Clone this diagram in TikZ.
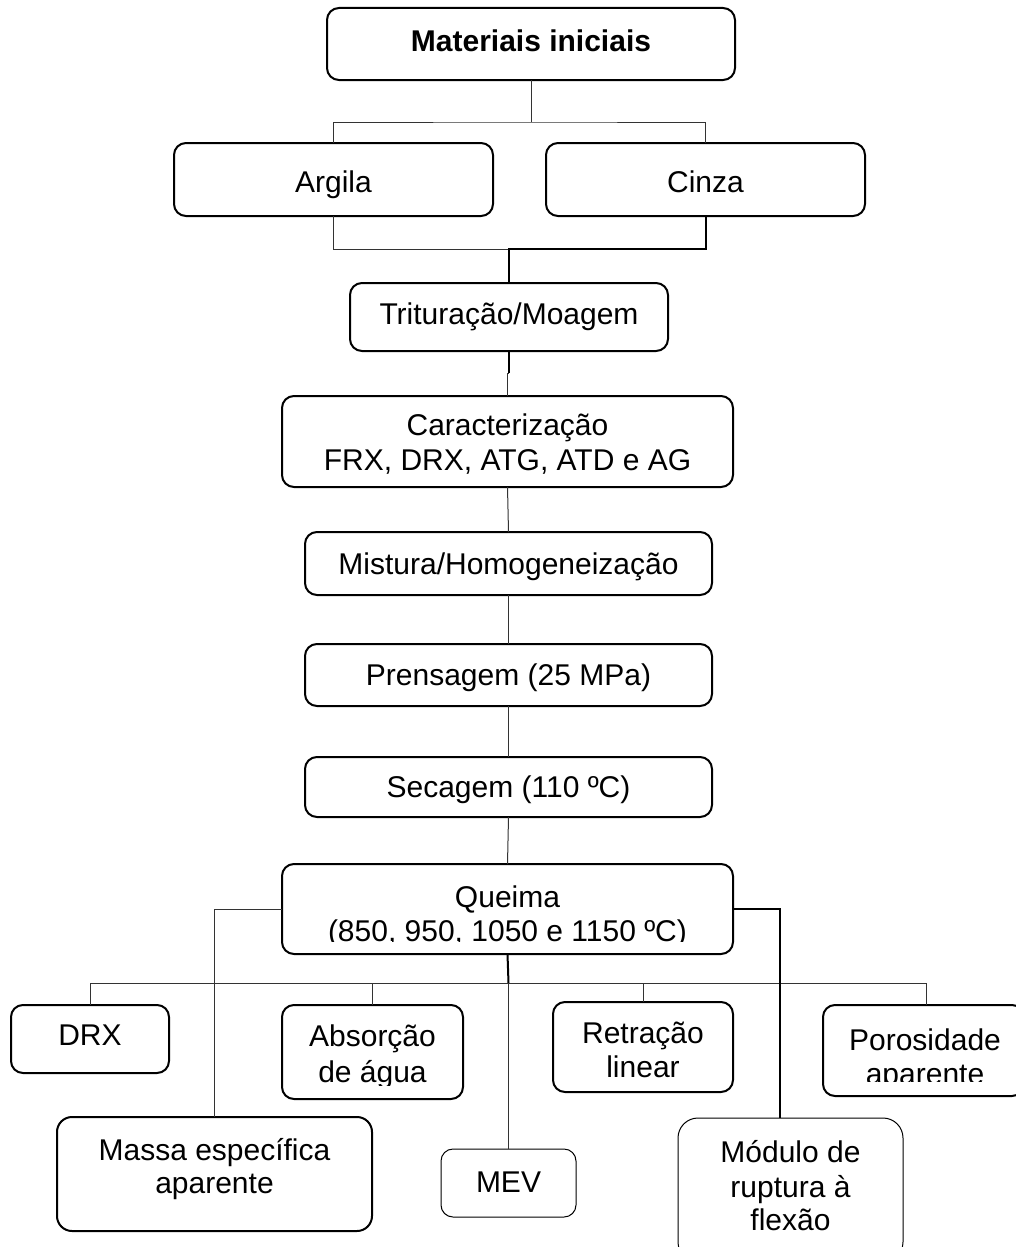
\documentclass[tikz,border=0pt]{standalone}
\usepackage{fontspec}
\setmainfont{Liberation Sans}
\newcommand\mybox[6]{\node[#2,minimum width={(#5)-(#3)},minimum height={(#6)-(#4)}] (#1) at ({((#3)+(#5))/2},{((#4)+(#6))/2}) {};}
\begin{document}
\begin{tikzpicture}[x=1pt,y=-1pt,
  box/.style={draw=black,line width=2pt,rounded corners=12pt,inner sep=0pt,outer sep=0pt},
  thinbox/.style={draw=black,line width=1pt,rounded corners=12pt,inner sep=0pt,outer sep=0pt},
  lbl/.style={inner sep=0pt,anchor=base,font=\fontsize{30}{35}\selectfont},
  conn/.style={draw=black!80,line width=1pt},
  connb/.style={draw=black,line width=2pt}]
\clip (0,0) rectangle (1016,1247);
\fill[white] (0,0) rectangle (1016,1247);
% boxes
\mybox{mat}{box}{327}{8}{735}{80}
\mybox{arg}{box}{174}{143}{493}{216}
\mybox{cin}{box}{546}{143}{865}{216}
\mybox{tri}{box}{350}{283}{668}{351}
\mybox{car}{box}{282}{396}{733}{487}
\mybox{mis}{box}{305}{532}{712}{595}
\mybox{pre}{box}{305}{644}{712}{706}
\mybox{sec}{box}{305}{757}{712}{817}
\mybox{que}{box}{282}{864}{733}{954}
\mybox{drx}{box}{11}{1005}{169}{1073}
\mybox{abs}{box}{282}{1005}{463}{1099}
\mybox{ret}{box}{553}{1002}{733}{1092}
\mybox{por}{box}{823}{1005}{1024}{1096}
\mybox{mas}{box,rounded corners=15pt}{57}{1117}{372}{1231}
\mybox{mev}{thinbox}{441}{1149}{576}{1217}
\mybox{mod}{thinbox,rounded corners=20pt}{678}{1118}{903}{1262}
% labels
\node[lbl,font=\fontsize{30}{35}\selectfont\bfseries] (tmat) at (531,52) {Materiais iniciais};
\node[lbl] (targ) at (333.5,192) {Argila};
\node[lbl] (tcin) at (705.5,192) {Cinza};
\node[lbl] (ttri) at (509,324) {Trituração/Moagem};
\node[lbl] (tcar1) at (507.5,435) {Caracterização};
\node[lbl] (tcar2) at (507.5,470) {FRX, DRX, ATG, ATD e AG};
\node[lbl] (tmis) at (508.5,574) {Mistura/Homogeneização};
\node[lbl] (tpre) at (508.5,685) {Prensagem (25 MPa)};
\node[lbl] (tsec) at (508.5,797) {Secagem (110 ºC)};
\node[lbl] (tque1) at (507.5,907) {Queima};
\begin{scope}
\clip (284,910) rectangle (731,941);
\node[lbl] (tque2) at (507.5,941) {(850, 950, 1050 e 1150 ºC)};
\end{scope}
\node[lbl] (tdrx) at (90,1045) {DRX};
\node[lbl] (tabs1) at (372.5,1046) {Absorção};
\begin{scope}
\clip (284,1050) rectangle (461,1085);
\node[lbl] (tabs2) at (372.5,1082) {de água};
\end{scope}
\node[lbl] (tret1) at (643,1043) {Retração};
\node[lbl] (tret2) at (643,1077) {linear};
\node[lbl] (tpor1) at (925,1050) {Porosidade};
\begin{scope}
\clip (825,1055) rectangle (1016,1081);
\node[lbl] (tpor2) at (925,1084) {aparente};
\end{scope}
\node[lbl] (tmas1) at (214.5,1160) {Massa específica};
\node[lbl] (tmas2) at (214.5,1193) {aparente};
\node[lbl] (tmev) at (508.5,1192) {MEV};
\node[lbl] (tmod1) at (790.5,1162) {Módulo de};
\node[lbl] (tmod2) at (790.5,1197) {ruptura à};
\node[lbl] (tmod3) at (790.5,1230) {flexão};
% connectors
\coordinate (j1) at (531,122);
\draw[conn] (mat.south) -- (j1);
\draw[conn] (arg.north) |- (j1) -| (cin.north);
\coordinate (j2) at (509,249);
\draw[conn] (arg.south) |- (j2);
\draw[connb] (cin.south) |- (j2) -- (tri.north);
\coordinate (j3) at (509,373);
\draw[connb] (tri.south) -- (j3);
\draw[conn] (j3) -| (car.north);
\draw[conn] (car.south) -- (mis.north);
\draw[conn] (mis.south) -- (pre.north);
\draw[conn] (pre.south) -- (sec.north);
\draw[conn] (sec.south) -- (que.north);
\coordinate (bus) at (508.5,983);
\draw[connb] (que.south) -- (bus);
\draw[conn] (drx.north) |- (bus) -| ([xshift=2.5pt]por.north);
\draw[conn] (abs.north) -- (abs.north |- bus);
\draw[conn] (ret.north) -- (ret.north |- bus);
\draw[conn] (bus) -- (mev.north);
\draw[conn] (que.west) -| (mas.north);
\draw[connb] (que.east) -| ([xshift=-10.5pt]mod.north);
\end{tikzpicture}
\end{document}
